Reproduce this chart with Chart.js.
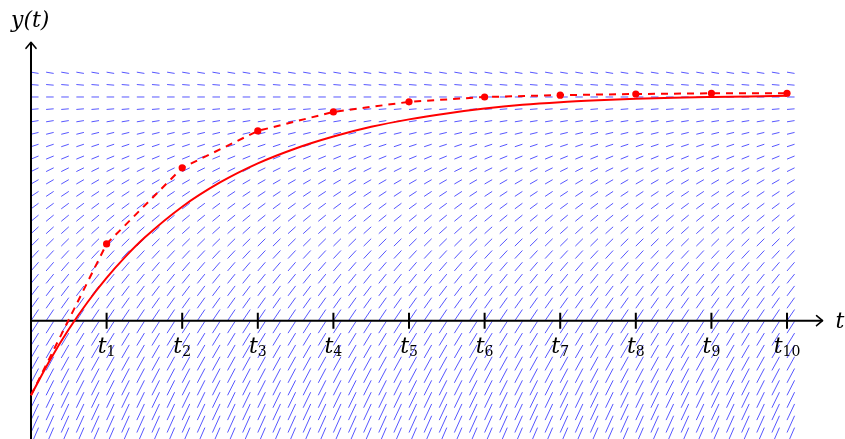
<!DOCTYPE html>
<html><head><meta charset="utf-8">
<script src="https://cdn.jsdelivr.net/npm/chart.js@4.4.1/dist/chart.umd.min.js"></script>
<style>html,body{margin:0;padding:0;background:#fff;overflow:hidden}#wrap{width:845px;height:439px}</style>
</head><body><div id="wrap"><canvas id="c" width="845" height="439"></canvas></div>
<script>
// ---- data ----
const exactT = [0, 0.25, 0.5, 0.75, 1, 1.25, 1.5, 2, 2.5, 3, 3.5, 4, 4.5, 5, 5.5, 6, 6.5, 7, 7.5, 8, 8.5, 9, 9.5, 10];
const exactY = [-1.0, -0.53, -0.115, 0.251, 0.574, 0.859, 1.111, 1.529, 1.854, 2.11, 2.31, 2.47, 2.60, 2.70, 2.78, 2.845, 2.895, 2.93, 2.955, 2.975, 2.99, 3.0, 3.008, 3.015];
const eulerT = [0, 1, 2, 3, 4, 5, 6, 7, 8, 9, 10];
const eulerY = [-1.0, 1.03, 2.05, 2.545, 2.80, 2.935, 3.0, 3.025, 3.04, 3.05, 3.05];
const tickValues = [1, 2, 3, 4, 5, 6, 7, 8, 9, 10];
const tickBase = 't';
const tickSubscripts = ['1', '2', '3', '4', '5', '6', '7', '8', '9', '10'];
const xAxisLabel = 't';
const yAxisLabel = 'y(t)';
const fieldColumnsT = [0, 0.2, 0.4, 0.6, 0.8, 1, 1.2, 1.4, 1.6, 1.8, 2, 2.2, 2.4, 2.6, 2.8, 3, 3.2, 3.4, 3.6, 3.8, 4, 4.2, 4.4, 4.6, 4.8, 5, 5.2, 5.4, 5.6, 5.8, 6, 6.2, 6.4, 6.6, 6.8, 7, 7.2, 7.4, 7.6, 7.8, 8, 8.2, 8.4, 8.6, 8.8, 9, 9.2, 9.4, 9.6, 9.8, 10];
const fieldRowsY = [-1.667, -1.5, -1.333, -1.167, -1.0, -0.833, -0.667, -0.5, -0.333, -0.167, 0, 0.167, 0.333, 0.5, 0.667, 0.833, 1.0, 1.167, 1.333, 1.5, 1.667, 1.833, 2.0, 2.167, 2.333, 2.5, 2.667, 2.833, 3.0, 3.167, 3.333];
const fieldRowSlopes = [2.333, 2.25, 2.167, 2.083, 2.0, 1.917, 1.833, 1.75, 1.667, 1.583, 1.5, 1.417, 1.333, 1.25, 1.167, 1.083, 1.0, 0.917, 0.833, 0.75, 0.667, 0.583, 0.5, 0.417, 0.333, 0.25, 0.167, 0.083, 0, -0.083, -0.167];

// ---- build library datasets ----
const SEG_DT = 0.1;
const fieldData = [];
fieldRowsY.forEach((y, i) => {
  const s = fieldRowSlopes[i];
  fieldColumnsT.forEach(t => {
    fieldData.push({x: t, y: y});
    fieldData.push({x: t + SEG_DT, y: y + SEG_DT * s});
    fieldData.push({x: NaN, y: NaN});
  });
});
const exactData = exactT.map((t, i) => ({x: t, y: exactY[i]}));
const eulerData = eulerT.map((t, i) => ({x: t, y: eulerY[i]}));
const eulerRadii = eulerT.map((t, i) => i === 0 ? 0 : 3.6);

const AXIS_X_END = 10.47, AXIS_Y_END = 3.733;

const axesPlugin = {
  id: 'axes',
  afterDatasetDraw(chart, args) {
    if (args.index !== 0) return;
    const ctx = chart.ctx, xs = chart.scales.x, ys = chart.scales.y;
    const x0 = xs.getPixelForValue(0), y0 = ys.getPixelForValue(0);
    const xe = xs.getPixelForValue(AXIS_X_END), ye = ys.getPixelForValue(AXIS_Y_END);
    ctx.save();
    ctx.strokeStyle = '#000';
    ctx.lineWidth = 2;
    ctx.beginPath();
    ctx.moveTo(x0, y0); ctx.lineTo(xe, y0);
    ctx.moveTo(x0, chart.chartArea.bottom); ctx.lineTo(x0, ye);
    ctx.stroke();
    ctx.lineWidth = 1.6;
    ctx.lineCap = 'round'; ctx.lineJoin = 'round';
    ctx.beginPath();
    ctx.moveTo(xe - 6, y0 - 5); ctx.lineTo(xe, y0); ctx.lineTo(xe - 6, y0 + 5);
    ctx.moveTo(x0 - 5, ye + 6); ctx.lineTo(x0, ye); ctx.lineTo(x0 + 5, ye + 6);
    ctx.stroke();
    ctx.lineWidth = 2; ctx.lineCap = 'butt';
    ctx.beginPath();
    tickValues.forEach(v => {
      const px = xs.getPixelForValue(v);
      ctx.moveTo(px, y0 - 8); ctx.lineTo(px, y0 + 8);
    });
    ctx.stroke();
    // tick labels
    ctx.fillStyle = '#000';
    ctx.textBaseline = 'alphabetic';
    const baseFont = 'italic 22px "DejaVu Serif"';
    const subFont = '14px "DejaVu Serif"';
    tickValues.forEach((v, i) => {
      const px = xs.getPixelForValue(v);
      ctx.font = baseFont;
      const wb = ctx.measureText(tickBase).width;
      ctx.font = subFont;
      const ws = ctx.measureText(tickSubscripts[i]).width;
      const left = px - (wb + ws) / 2;
      ctx.font = baseFont;
      ctx.textAlign = 'left';
      ctx.fillText(tickBase, left, y0 + 32);
      ctx.font = subFont;
      ctx.fillText(tickSubscripts[i], left + wb, y0 + 35);
    });
    ctx.font = baseFont;
    ctx.textAlign = 'center';
    ctx.fillText(xAxisLabel, 840, y0 + 7);
    ctx.textAlign = 'left';
    ctx.fillText(yAxisLabel, 11, 27);
    ctx.restore();
  }
};

new Chart(document.getElementById('c'), {
  type: 'scatter',
  data: {
    datasets: [
      {data: fieldData, showLine: true, spanGaps: false, borderColor: 'rgba(45,45,255,0.8)', borderWidth: 1,
       pointRadius: 0, order: 3, tension: 0},
      {data: exactData, showLine: true, borderColor: '#ff0000', borderWidth: 2, pointRadius: 0,
       cubicInterpolationMode: 'monotone', order: 2},
      {data: eulerData, showLine: true, borderColor: '#ff0000', borderWidth: 2, borderDash: [7, 6],
       pointRadius: eulerRadii, pointBackgroundColor: '#ff0000', pointBorderWidth: 0, tension: 0, order: 1}
    ]
  },
  options: {
    responsive: false, animation: false, events: [],
    layout: {padding: 0, autoPadding: false},
    plugins: {legend: {display: false}, tooltip: {enabled: false}},
    scales: {
      x: {type: 'linear', min: -0.41, max: 10.767, display: false},
      y: {type: 'linear', min: -1.5864, max: 4.3007, display: false}
    }
  },
  plugins: [axesPlugin]
});
</script>
</body></html>
